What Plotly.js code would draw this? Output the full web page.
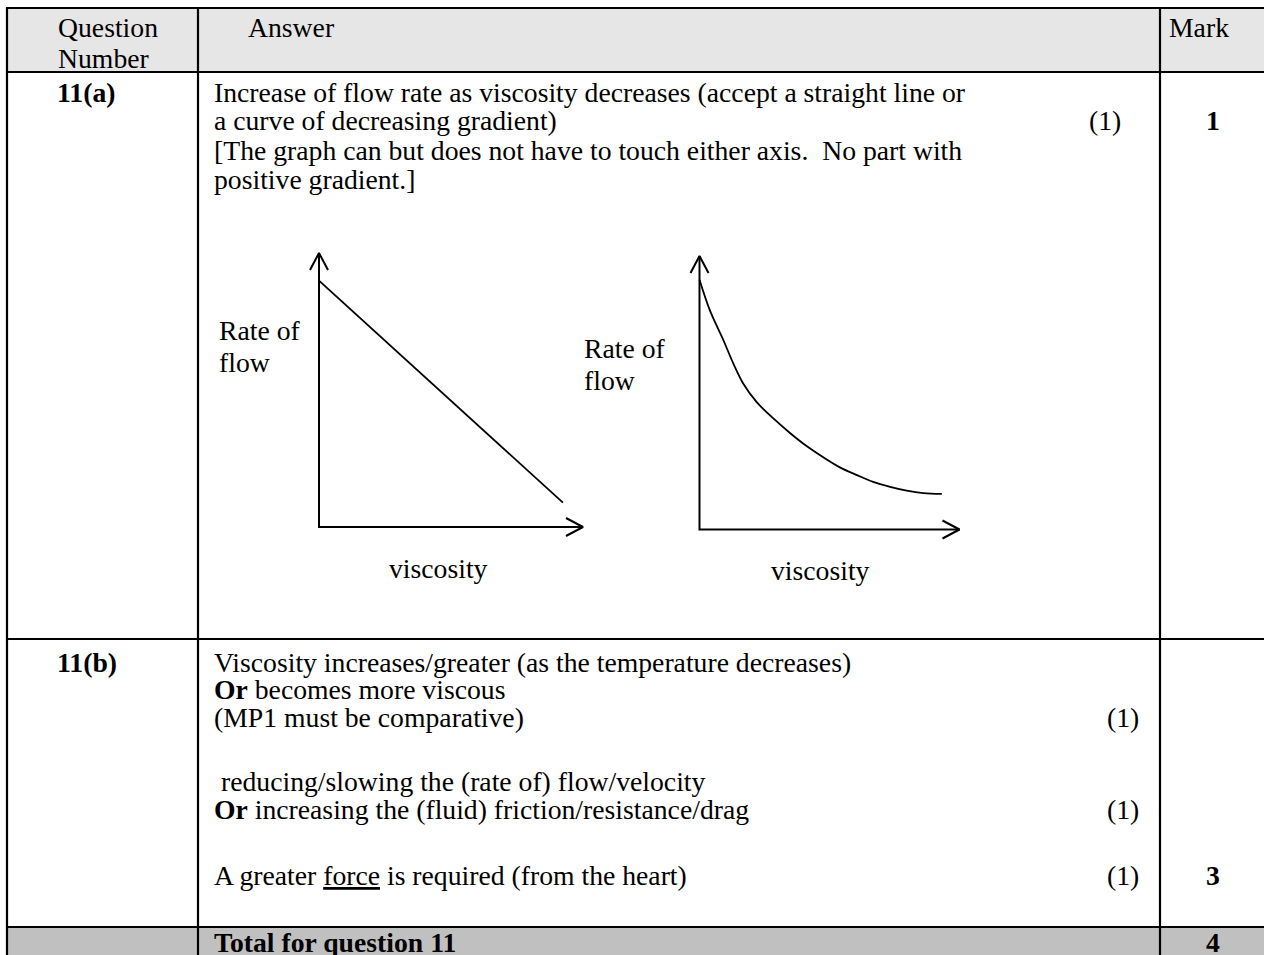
<!DOCTYPE html>
<html>
<head>
<meta charset="utf-8">
<script src="https://cdn.plot.ly/plotly-3.0.1.min.js"></script>
<style>html,body{margin:0;padding:0;background:#fff;}#chart{width:1264px;height:955px;}</style>
</head>
<body>
<div id="chart"></div>
<script>
// ---- data (arbitrary 0-100 sketch units) ----
const linearViscosity = [0, 92.4];
const linearFlow = [89.9, 8.9];
const curveViscosity = [0, 4.0, 9.2, 13.0, 16.8, 22.0, 28.4, 34.8, 41.2, 47.6, 54.0, 60.5, 66.8, 73.3, 79.7, 86.1, 93.2];
const curveFlow = [91.3, 80.1, 69.2, 60.7, 53.4, 46.6, 40.6, 35.3, 30.5, 26.4, 22.7, 19.9, 17.4, 15.6, 14.2, 13.3, 13.0];

// ---- table text ----
const headerLabels = ["Question", "Number", "Answer", "Mark"];
const partALines = [
  "Increase of flow rate as viscosity decreases (accept a straight line or",
  "a curve of decreasing gradient)",
  "[The graph can but does not have to touch either axis.&nbsp; No part with",
  "positive gradient.]"
];
const partBLines = [
  "Viscosity increases/greater (as the temperature decreases)",
  "<b>Or</b> becomes more viscous",
  "(MP1 must be comparative)",
  "reducing/slowing the (rate of) flow/velocity",
  "<b>Or</b> increasing the (fluid) friction/resistance/drag",
  "A greater <u>force</u> is required (from the heart)"
];
const questionLabels = ["11(a)", "11(b)"];
const marks = ["1", "3", "4"];
const axisLabelY = ["Rate of", "flow"];
const axisLabelX = "viscosity";
const totalLabel = "Total for question 11";

// ---- layout helpers (pixel -> paper) ----
const W = 1264, H = 955;
const px = x => x / W;
const py = y => 1 - y / H;
const FONT = "Liberation Serif";
const FS = 27.7;

// graph boxes in pixels: origin (l,b), arrow tips (r,t)
const g1 = {l: 319, r: 583, b: 527, t: 253};
const g2 = {l: 699.5, r: 959.5, b: 529.5, t: 256};
const PAD = 12; // extra range so arrowheads are not clipped

function axisFor(g) {
  const sx = (g.r - g.l) / 100, sy = (g.b - g.t) / 100;
  return {
    sx: sx, sy: sy,
    xdom: [px(g.l - PAD * sx), px(g.r + PAD * sx)],
    ydom: [py(g.b + PAD * sy), py(g.t - PAD * sy)]
  };
}

function arrowTraces(g, xa, ya) {
  const a = axisFor(g);
  const L = 17, Hw = 9;
  const base = {type: 'scatter', mode: 'lines', xaxis: xa, yaxis: ya,
    line: {color: '#000', width: 2}, hoverinfo: 'skip', showlegend: false};
  return [
    Object.assign({}, base, {x: [0, 0, 100], y: [100, 0, 0]}),
    Object.assign({}, base, {x: [-Hw / a.sx, 0, Hw / a.sx], y: [100 - L / a.sy, 100, 100 - L / a.sy]}),
    Object.assign({}, base, {x: [100 - L / a.sx, 100, 100 - L / a.sx], y: [Hw / a.sy, 0, -Hw / a.sy]})
  ];
}

const traces = [].concat(
  arrowTraces(g1, 'x', 'y'),
  arrowTraces(g2, 'x2', 'y2'),
  [
    {type: 'scatter', mode: 'lines', x: linearViscosity, y: linearFlow, xaxis: 'x', yaxis: 'y',
      line: {color: '#000', width: 1.8}, hoverinfo: 'skip', showlegend: false},
    {type: 'scatter', mode: 'lines', x: curveViscosity, y: curveFlow, xaxis: 'x2', yaxis: 'y2',
      line: {color: '#000', width: 1.8, shape: 'spline', smoothing: 1.0}, hoverinfo: 'skip', showlegend: false}
  ]
);

const a1 = axisFor(g1), a2 = axisFor(g2);
const hiddenAxis = {range: [-PAD, 100 + PAD], visible: false, fixedrange: true};

// ---- table shapes ----
const LX = 7, C1 = 198, C2 = 1160, RX = 1266;
const TY = 8, HY = 72, RY = 639, TTY = 927, BY = 960;
const shapes = [
  {type: 'rect', xref: 'paper', yref: 'paper', x0: px(LX), x1: px(RX), y0: py(TY), y1: py(HY), fillcolor: '#e6e6e6', line: {width: 0}, layer: 'below'},
  {type: 'rect', xref: 'paper', yref: 'paper', x0: px(LX), x1: px(RX), y0: py(TTY), y1: py(BY), fillcolor: '#c0c0c0', line: {width: 0}, layer: 'below'}
];
[TY, HY, RY, TTY].forEach(y => shapes.push({type: 'line', xref: 'paper', yref: 'paper',
  x0: px(LX - 1), x1: px(RX), y0: py(y), y1: py(y), line: {color: '#000', width: 2.2}}));
[LX, C1, C2].forEach(x => shapes.push({type: 'line', xref: 'paper', yref: 'paper',
  x0: px(x), x1: px(x), y0: py(TY), y1: py(BY), line: {color: '#000', width: 2.2}}));

// ---- annotations ----
const ann = [];
function T(text, x, y, opts) {
  ann.push(Object.assign({text: text, xref: 'paper', yref: 'paper', x: px(x), y: py(y),
    xanchor: 'left', yanchor: 'middle', showarrow: false, align: 'left',
    font: {family: FONT, size: FS, color: '#000'}}, opts || {}));
}
// header
T(headerLabels[0], 56, 28);
T(headerLabels[1], 56, 58);
T(headerLabels[2], 246, 28);
T(headerLabels[3], 1167, 28);
// 11(a)
T("<b>" + questionLabels[0] + "</b>", 55, 92);
const aY = [92, 121, 150, 179];
partALines.forEach((s, i) => T(s, 212, aY[i]));
T("(1)", 1123, 121, {xanchor: 'right'});
T("<b>" + marks[0] + "</b>", 1213, 121, {xanchor: 'center'});
// graph labels
T(axisLabelY[0], 217, 330);
T(axisLabelY[1], 217, 362);
T(axisLabelY[0], 582, 348);
T(axisLabelY[1], 582, 380);
T(axisLabelX, 438, 568, {xanchor: 'center'});
T(axisLabelX, 820, 570, {xanchor: 'center'});
// 11(b)
T("<b>" + questionLabels[1] + "</b>", 55, 662);
const bY = [662, 689, 717, 781, 809, 875];
const bX = [212, 212, 212, 219, 212, 212];
partBLines.forEach((s, i) => T(s, bX[i], bY[i]));
T("(1)", 1141, 717, {xanchor: 'right'});
T("(1)", 1141, 809, {xanchor: 'right'});
T("(1)", 1141, 875, {xanchor: 'right'});
T("<b>" + marks[1] + "</b>", 1213, 875, {xanchor: 'center'});
// total
T("<b>" + totalLabel + "</b>", 212, 942);
T("<b>" + marks[2] + "</b>", 1213, 942, {xanchor: 'center'});

const layout = {
  width: W, height: H,
  margin: {l: 0, r: 0, t: 0, b: 0},
  paper_bgcolor: '#fff', plot_bgcolor: 'rgba(0,0,0,0)',
  showlegend: false,
  xaxis: Object.assign({}, hiddenAxis, {domain: a1.xdom, anchor: 'y'}),
  yaxis: Object.assign({}, hiddenAxis, {domain: a1.ydom, anchor: 'x'}),
  xaxis2: Object.assign({}, hiddenAxis, {domain: a2.xdom, anchor: 'y2'}),
  yaxis2: Object.assign({}, hiddenAxis, {domain: a2.ydom, anchor: 'x2'}),
  shapes: shapes,
  annotations: ann
};

Plotly.newPlot('chart', traces, layout, {staticPlot: true, displayModeBar: false});
</script>
</body>
</html>
